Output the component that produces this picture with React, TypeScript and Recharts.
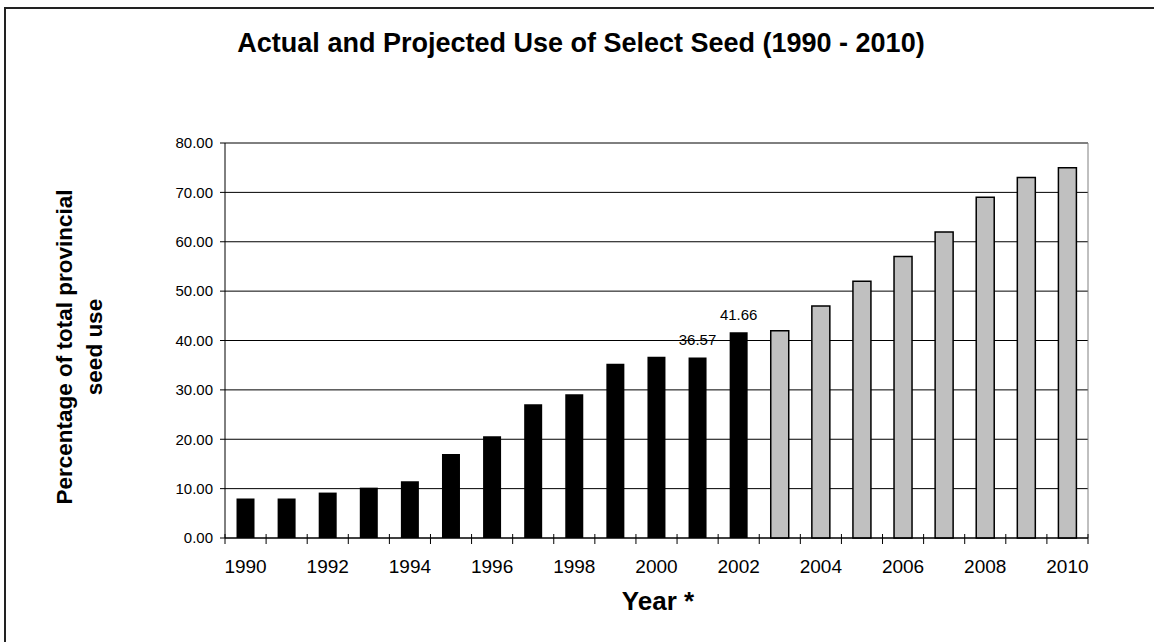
import React from "react";
import {
  BarChart,
  Bar,
  XAxis,
  YAxis,
  CartesianGrid,
  LabelList,
} from "recharts";

const years = [
  1990, 1991, 1992, 1993, 1994, 1995, 1996, 1997, 1998, 1999, 2000, 2001,
  2002, 2003, 2004, 2005, 2006, 2007, 2008, 2009, 2010,
];

// 1990 - 2002
const actualValues = [
  8, 8, 9.2, 10.2, 11.5, 17, 20.6, 27.1, 29.1, 35.3, 36.7, 36.57, 41.66,
];

// 2003 - 2010
const projectedValues = [42, 47, 52, 57, 62, 69, 73, 75];

const labelledYears = [2001, 2002];

const yTicks = [0, 10, 20, 30, 40, 50, 60, 70, 80];

const FONT = "'Liberation Sans', Arial, Helvetica, sans-serif";

const data = years.map((year, i) => {
  const actual = i < actualValues.length ? actualValues[i] : null;
  const projected =
    i >= actualValues.length ? projectedValues[i - actualValues.length] : null;
  return {
    year,
    actual,
    projected,
    label: labelledYears.includes(year) ? actual : null,
  };
});

// tick marks sit between the categories, labels on every other year
const YearTick = (props: any) => {
  const { x, y, payload, index, width } = props;
  const half = payload.offset ?? width / years.length / 2;
  return (
    <g>
      <line x1={x - half} x2={x - half} y1={y - 4} y2={y + 6} stroke="#000" />
      {index === years.length - 1 && (
        <line x1={x + half} x2={x + half} y1={y - 4} y2={y + 6} stroke="#000" />
      )}
      {index % 2 === 0 && (
        <text
          x={x}
          y={y + 35}
          textAnchor="middle"
          fontSize={19}
          fontFamily={FONT}
          fill="#000"
        >
          {payload.value}
        </text>
      )}
    </g>
  );
};

export default function App() {
  return (
    <div
      style={{
        position: "absolute",
        left: 0,
        top: 0,
        width: 1154,
        height: 642,
        overflow: "hidden",
        background: "#fff",
        fontFamily: FONT,
      }}
    >
      <div style={{ position: "absolute", left: 0, top: 0 }}>
        <BarChart
          width={1154}
          height={642}
          data={data}
          margin={{ top: 143, right: 66, left: 125, bottom: 64 }}
          barCategoryGap="28%"
        >
          <CartesianGrid horizontal vertical={false} stroke="#000" />
          <CartesianGrid
            stroke="#808080"
            horizontalCoordinatesGenerator={({ offset }: any) => [offset.top]}
            verticalCoordinatesGenerator={({ offset }: any) => [
              offset.left + offset.width,
            ]}
          />
          <XAxis
            dataKey="year"
            interval={0}
            height={40}
            tickSize={0}
            tickMargin={0}
            tickLine={false}
            axisLine={{ stroke: "#000" }}
            tick={<YearTick />}
          />
          <YAxis
            domain={[0, 80]}
            ticks={yTicks}
            width={100}
            tickSize={5}
            tickMargin={7}
            axisLine={{ stroke: "#000" }}
            tickLine={{ stroke: "#000" }}
            tickFormatter={(v: number) => v.toFixed(2)}
            tick={{ fontSize: 15, fill: "#000", fontFamily: FONT }}
          />
          <Bar
            dataKey="actual"
            stackId="a"
            fill="#000"
            isAnimationActive={false}
          >
            <LabelList
              dataKey="label"
              position="top"
              offset={12}
              fontSize={15}
              fill="#000"
              fontFamily={FONT}
            />
          </Bar>
          <Bar
            dataKey="projected"
            stackId="a"
            fill="#c0c0c0"
            stroke="#000"
            strokeWidth={1.5}
            isAnimationActive={false}
          />
        </BarChart>
      </div>
      <svg
        width={1154}
        height={642}
        style={{ position: "absolute", left: 0, top: 0, pointerEvents: "none" }}
        fontFamily={FONT}
        fontWeight="bold"
      >
        {/* chart frame, running off the right and bottom edges */}
        <rect
          x={5}
          y={8}
          width={1200}
          height={700}
          fill="none"
          stroke="#222"
          strokeWidth={2}
        />
        <text x={581} y={52} textAnchor="middle" fontSize={27} fill="#000">
          Actual and Projected Use of Select Seed (1990 - 2010)
        </text>
        <text x={658} y={610} textAnchor="middle" fontSize={26} fill="#000">
          Year *
        </text>
        <text
          transform="translate(72, 347) rotate(-90)"
          textAnchor="middle"
          fontSize={22.5}
          fill="#000"
        >
          <tspan x={0} dy={0}>
            Percentage of total provincial
          </tspan>
          <tspan x={0} dy={30}>
            seed use
          </tspan>
        </text>
      </svg>
    </div>
  );
}
